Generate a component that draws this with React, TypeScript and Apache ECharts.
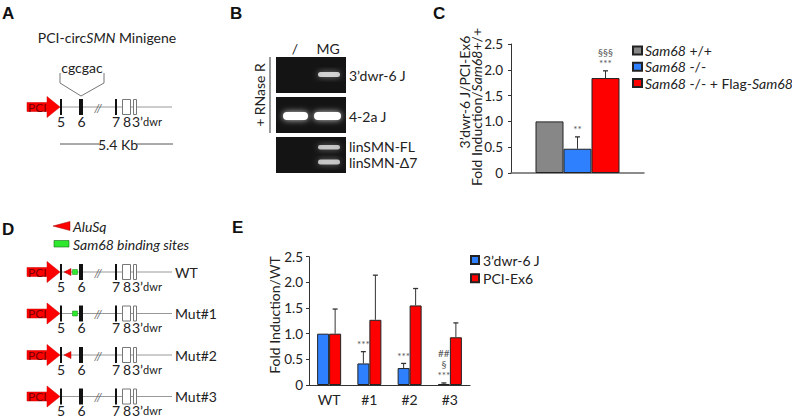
import React, { useEffect, useRef } from "react";
import * as echarts from "echarts";

const FONT = "Lato, 'Liberation Sans', sans-serif";

// ---- Panel C data ----
const cSeriesNames = ["Sam68 +/+", "Sam68 -/-", "Sam68 -/- + Flag-Sam68"];
const cValues = [1.0, 0.47, 1.84];
const cErrTop = [1.0, 0.7, 1.98];
const cMarks = ["", "**", "§§§\n***"];
const cColors = ["#878787", "#2f80ff", "#ff0000"];

// ---- Panel E data ----
const eCategories = ["WT", "#1", "#2", "#3"];
const eSeriesNames = ["3\u2019dwr-6 J", "PCI-Ex6"];
const eBlueValues = [1.0, 0.42, 0.33, 0.02];
const eBlueErrTop = [1.0, 0.65, 0.42, 0.04];
const eBlueMarks = ["", "***", "***", "##\n§\n***"];
const eRedValues = [1.0, 1.27, 1.55, 0.93];
const eRedErrTop = [1.48, 2.14, 1.88, 1.21];
const eRedMarks = ["", "", "", ""];
const eColors = ["#2f80ff", "#ff0000"];

// ---- shared y ticks ----
const yTickValues = [0, 0.5, 1.0, 1.5, 2.0, 2.5];
const yTickLabels = ["0", "0.5", "1.0", "1.5", "2.0", "2.5"];

const C_BAR_W = 28;
const E_BAR_W = 12;
// panel C lives in its own overlay chart placed at (C_X, 0)
const C_X = 430;
const C_W = 362;
const C_H = 200;
const GRID_C = { left: 511 - C_X, right: 148, top: 44, bottom: C_H - 173 };
const GRID_E = { left: 309, right: 322, top: 256.7, bottom: 33 };

function yAxisBase() {
  return {
    type: "value",
    gridIndex: 0,
    min: yTickValues[0],
    max: yTickValues[yTickValues.length - 1],
    interval: yTickValues[1] - yTickValues[0],
    axisLine: { show: true, lineStyle: { color: "#333", width: 1 } },
    axisTick: { show: true, length: 3, lineStyle: { color: "#333" } },
    splitLine: { show: false },
  };
}

// tick labels placed through the axis scale (api.coord) next to the y axis line
function tickLabelSeries(xAxisIndex: number, yAxisIndex: number) {
  return {
    type: "custom",
    xAxisIndex,
    yAxisIndex,
    silent: true,
    z: 6,
    data: yTickValues.map((v) => [0, v]),
    encode: { x: 0, y: 1 },
    renderItem: (params: any, api: any) => {
      const p = api.coord([0, api.value(1)]);
      const left = params.coordSys.x;
      return {
        type: "text",
        style: {
          text: yTickLabels[params.dataIndex],
          x: left - 6,
          y: p[1],
          align: "right",
          verticalAlign: "middle",
          fontFamily: FONT,
          fontSize: 13.5,
          fill: "#222",
        },
      };
    },
  };
}

function errSeries(
  xAxisIndex: number,
  yAxisIndex: number,
  cats: number[],
  values: number[],
  tops: number[],
  marks: string[],
  offsets: number[]
) {
  return {
    type: "custom",
    xAxisIndex,
    yAxisIndex,
    z: 5,
    silent: true,
    data: values.map((v, i) => [cats[i], tops[i], v]),
    encode: { x: 0, y: [1, 2] },
    renderItem: (params: any, api: any) => {
      const i = params.dataIndex;
      const base = api.coord([api.value(0), api.value(2)]);
      const top = api.coord([api.value(0), api.value(1)]);
      const x = base[0] + offsets[i];
      const children: any[] = [];
      if (tops[i] > values[i]) {
        children.push({
          type: "line",
          shape: { x1: x, y1: base[1], x2: x, y2: top[1] },
          style: { stroke: "#333", lineWidth: 1 },
        });
        children.push({
          type: "line",
          shape: { x1: x - 2.5, y1: top[1], x2: x + 2.5, y2: top[1] },
          style: { stroke: "#333", lineWidth: 1.3 },
        });
      }
      if (marks[i]) {
        children.push({
          type: "text",
          style: {
            text: marks[i],
            x,
            y: top[1] - 2,
            align: "center",
            verticalAlign: "bottom",
            fontSize: 10,
            lineHeight: 11,
            fontFamily: FONT,
            fill: "#555",
          },
        });
      }
      return { type: "group", children };
    },
  };
}

function txt(text: string, x: number, y: number, extra: any = {}, rotation = 0): any {
  return {
    type: "text",
    x,
    y,
    rotation,
    style: {
      text,
      fontFamily: FONT,
      fontSize: 14,
      fill: "#222",
      align: "left",
      verticalAlign: "middle",
      ...extra,
    },
  };
}

const RICH = {
  i: { fontFamily: FONT, fontSize: 14, fontStyle: "italic", fill: "#222" },
  n: { fontFamily: FONT, fontSize: 14, fill: "#222" },
  s: { fontFamily: FONT, fontSize: 11, fill: "#222" },
};

const letter = (t: string, x: number, y: number) =>
  txt(t, x, y, { fontSize: 17, fontWeight: "bold", fill: "#111", fontFamily: "'Liberation Sans', Arial, sans-serif", verticalAlign: "top" });

function geneRow(y: number, alu: boolean, sam: boolean, label?: string): any[] {
  const ny = y + 14;
  const els: any[] = [
    { type: "line", shape: { x1: 60, y1: y, x2: 172, y2: y }, style: { stroke: "#999", lineWidth: 1 } },
    {
      type: "polygon",
      shape: { points: [[27, y - 4.5], [47, y - 4.5], [47, y - 10.5], [60, y], [47, y + 10.5], [47, y + 4.5], [27, y + 4.5]] },
      style: { fill: "#ff0000", stroke: "#cc0000", lineWidth: 0.5 },
    },
    txt("PCI", 28, y, { fontSize: 12, fill: "#7a0000" }),
    { type: "rect", shape: { x: 60, y: y - 8, width: 2, height: 16 }, style: { fill: "#111" } },
    { type: "rect", shape: { x: 79, y: y - 8, width: 4, height: 16 }, style: { fill: "#111" } },
    txt("//", 98, y, { fontSize: 12, fill: "#666", align: "center", fontStyle: "italic" }),
    { type: "rect", shape: { x: 115, y: y - 8, width: 2, height: 16 }, style: { fill: "#111" } },
    { type: "rect", shape: { x: 122.5, y: y - 7.5, width: 8, height: 15 }, style: { fill: "#fff", stroke: "#777", lineWidth: 1 } },
    { type: "rect", shape: { x: 133.5, y: y - 7.5, width: 3, height: 15 }, style: { fill: "#fff", stroke: "#777", lineWidth: 1 } },
    txt("5", 61, ny, { align: "center", fontSize: 14, lineHeight: 14 }),
    txt("6", 81.5, ny, { align: "center", fontSize: 14, lineHeight: 14 }),
    txt("7", 116, ny, { align: "center", fontSize: 14, lineHeight: 14 }),
    txt("8", 127, ny, { align: "center", fontSize: 14, lineHeight: 14 }),
    txt("{n|3\u2019}{s|dwr}", 132, ny, { rich: { n: { ...RICH.n, lineHeight: 14 }, s: { ...RICH.s, lineHeight: 14 } } }),
  ];
  if (alu) {
    els.push({
      type: "polygon",
      shape: { points: [[64, y], [71, y - 3.5], [71, y + 3.5]] },
      style: { fill: "#ff0000", stroke: "#990000", lineWidth: 0.5 },
    });
  }
  if (sam) {
    els.push({
      type: "rect",
      shape: { x: 72.5, y: y - 2.5, width: 5, height: 5 },
      style: { fill: "#2ee82e", stroke: "#1a8a1a", lineWidth: 0.5 },
    });
  }
  if (label) els.push(txt(label, 175, y));
  return els;
}

function band(x: number, y: number, w: number, h: number, bright: number): any {
  return {
    type: "rect",
    shape: { x, y, width: w, height: h, r: h / 2 },
    style: {
      fill: `rgba(255,255,255,${bright})`,
      shadowBlur: 6,
      shadowColor: `rgba(255,255,255,${bright * 0.8})`,
    },
  };
}

function buildMainGraphics(): any[] {
  const g: any[] = [];
  g.push(letter("A", 2, 5), letter("B", 230, 5), letter("D", 2, 221), letter("E", 232, 219));

  // Panel A
  g.push(txt("PCI-circ{i|SMN} Minigene", 107, 37, { align: "center", rich: RICH }));
  g.push(txt("cgcgac", 82, 67, { align: "center", fontSize: 14 }));
  g.push({
    type: "polyline",
    shape: { points: [[60, 73], [60, 83], [81, 96], [104, 83], [104, 73]] },
    style: { stroke: "#777", lineWidth: 1, fill: null },
  });
  g.push(...geneRow(107, false, false));
  g.push({ type: "line", shape: { x1: 60, y1: 144, x2: 99, y2: 144 }, style: { stroke: "#555", lineWidth: 1 } });
  g.push({ type: "line", shape: { x1: 137, y1: 144, x2: 173, y2: 144 }, style: { stroke: "#555", lineWidth: 1 } });
  g.push(txt("5.4 Kb", 118, 144, { align: "center" }));

  // Panel B
  const gelX = 276;
  const gelW = 70;
  [[57, 36], [97, 36], [137, 36]].forEach(([y, h]) => {
    g.push({ type: "rect", shape: { x: gelX, y, width: gelW, height: h }, style: { fill: "#141414" } });
  });
  g.push(band(318, 72, 22, 5, 0.75));
  g.push(band(283, 112, 25, 8, 1));
  g.push(band(314, 112, 27, 8, 1));
  g.push(band(318, 145, 22, 4.5, 0.7));
  g.push(band(318, 159.5, 22, 5, 0.7));
  g.push(txt("/", 295, 48, { align: "center" }));
  g.push(txt("MG", 328, 48, { align: "center" }));
  g.push({ type: "line", shape: { x1: 270, y1: 57, x2: 270, y2: 133 }, style: { stroke: "#333", lineWidth: 1 } });
  g.push(txt("+ RNase R", 259, 95, { align: "center" }, Math.PI / 2));
  g.push(txt("3\u2019dwr-6 J", 349, 75));
  g.push(txt("4-2a J", 349, 116));
  g.push(txt("linSMN-FL", 349, 146, { lineHeight: 13 }));
  g.push(txt("linSMN-\u03947", 349, 162, { lineHeight: 13 }));

  // Panel D
  g.push({
    type: "polygon",
    shape: { points: [[53, 226], [70, 221.5], [70, 230.5]] },
    style: { fill: "#ff0000", stroke: "#990000", lineWidth: 0.5 },
  });
  g.push(txt("AluSq", 73, 226, { fontStyle: "italic" }));
  g.push({
    type: "rect",
    shape: { x: 54, y: 240.5, width: 15, height: 6.5 },
    style: { fill: "#2ee82e", stroke: "#1a6a1a", lineWidth: 0.6 },
  });
  g.push(txt("Sam68 binding sites", 73, 244, { fontStyle: "italic" }));
  g.push(...geneRow(272, true, true, "WT"));
  g.push(...geneRow(313.5, false, true, "Mut#1"));
  g.push(...geneRow(355, true, false, "Mut#2"));
  g.push(...geneRow(396.5, false, false, "Mut#3"));

  // Panel E axis title
  g.push(txt("Fold Induction/WT", 274, 315, { align: "center" }, Math.PI / 2));
  return g;
}

const legendRich = (name: string) => name.replace(/Sam68/g, "{i|Sam68}");

export default function App() {
  const mainRef = useRef<HTMLDivElement>(null);
  const cRef = useRef<HTMLDivElement>(null);
  useEffect(() => {
    if (!mainRef.current || !cRef.current) return;

    // ---------- main chart: panels A, B, D, E ----------
    const chart = echarts.init(mainRef.current, null, { renderer: "svg" });
    chart.setOption({
      animation: false,
      textStyle: { fontFamily: FONT },
      grid: [GRID_E],
      xAxis: [
        {
          type: "category",
          gridIndex: 0,
          data: eCategories,
          axisLine: { show: true, lineStyle: { color: "#333", width: 1 } },
          axisTick: { show: false },
          axisLabel: { fontFamily: FONT, fontSize: 14, color: "#222", margin: 7 },
        },
      ],
      yAxis: [{ ...yAxisBase(), axisLabel: { show: false } }],
      legend: [
        {
          orient: "vertical",
          left: 470,
          top: 253,
          icon: "rect",
          itemWidth: 8,
          itemHeight: 8,
          itemGap: 4.3,
          padding: 0,
          selectedMode: false,
          data: eSeriesNames,
          textStyle: { fontFamily: FONT, fontSize: 14, lineHeight: 13, color: "#222", padding: [0, 0, 0, -1] },
        },
      ],
      series: [
        {
          type: "bar",
          name: eSeriesNames[0],
          barWidth: E_BAR_W,
          barGap: "0%",
          data: eBlueValues,
          itemStyle: { color: eColors[0], borderColor: "#222", borderWidth: 1 },
        },
        {
          type: "bar",
          name: eSeriesNames[1],
          barWidth: E_BAR_W,
          barGap: "0%",
          data: eRedValues,
          itemStyle: { color: eColors[1], borderColor: "#222", borderWidth: 1 },
        },
        errSeries(0, 0, eCategories.map((_, i) => i), eBlueValues, eBlueErrTop, eBlueMarks, eBlueValues.map(() => -E_BAR_W / 2)),
        errSeries(0, 0, eCategories.map((_, i) => i), eRedValues, eRedErrTop, eRedMarks, eRedValues.map(() => E_BAR_W / 2)),
        tickLabelSeries(0, 0),
      ],
      graphic: buildMainGraphics(),
    } as any);

    // ---------- panel C chart (overlay) ----------
    const cChart = echarts.init(cRef.current, null, { renderer: "svg" });
    cChart.setOption({
      animation: false,
      textStyle: { fontFamily: FONT },
      grid: [GRID_C],
      xAxis: [
        {
          type: "category",
          data: ["C"],
          axisLine: { show: true, lineStyle: { color: "#666", width: 1.5 } },
          axisTick: { show: false },
          axisLabel: { show: false },
        },
      ],
      yAxis: [
        {
          ...yAxisBase(),
          axisLabel: {
            show: true,
            color: "#222",
            fontSize: 13.5,
            hideOverlap: false,
            formatter: (v: any) => {
              const k = yTickValues.indexOf(Number(v));
              return k >= 0 ? yTickLabels[k] : String(v);
            },
          },
        },
      ],
      legend: [
        {
          orient: "vertical",
          left: 632 - C_X,
          top: 43.5,
          icon: "rect",
          itemWidth: 9,
          itemHeight: 8,
          itemGap: 2.3,
          padding: 0,
          selectedMode: false,
          data: cSeriesNames,
          formatter: legendRich,
          textStyle: {
            fontFamily: FONT,
            fontSize: 14,
            lineHeight: 13,
            color: "#222",
            padding: [0, 0, 0, -2],
            rich: { i: { fontFamily: FONT, fontSize: 14, fontStyle: "italic", color: "#222", lineHeight: 13 } },
          },
        },
      ],
      series: [
        ...cSeriesNames.map((name, i) => ({
          type: "bar",
          name,
          barWidth: C_BAR_W,
          barGap: "0%",
          data: [cValues[i]],
          itemStyle: { color: cColors[i], borderColor: "#222", borderWidth: 1 },
        })),
        errSeries(0, 0, [0, 0, 0], cValues, cErrTop, cMarks, cValues.map((_, i) => (i - 1) * C_BAR_W)),
      ],
      graphic: [
        letter("C", 433 - C_X, 5),
        txt("3\u2019dwr-6 J/PCI-Ex6", 464 - C_X, 92, { align: "center" }, Math.PI / 2),
        txt("Fold Induction/{i|Sam68}+/+", 476 - C_X, 107, { align: "center", rich: RICH }, Math.PI / 2),
      ],
    } as any);

    return () => {
      chart.dispose();
      cChart.dispose();
    };
  }, []);
  return (
    <div style={{ position: "fixed", left: 0, top: 0, width: 792, height: 418, background: "#fff" }}>
      <div ref={mainRef} style={{ position: "absolute", left: 0, top: 0, width: 792, height: 418 }} />
      <div ref={cRef} style={{ position: "absolute", left: C_X, top: 0, width: C_W, height: C_H }} />
    </div>
  );
}
